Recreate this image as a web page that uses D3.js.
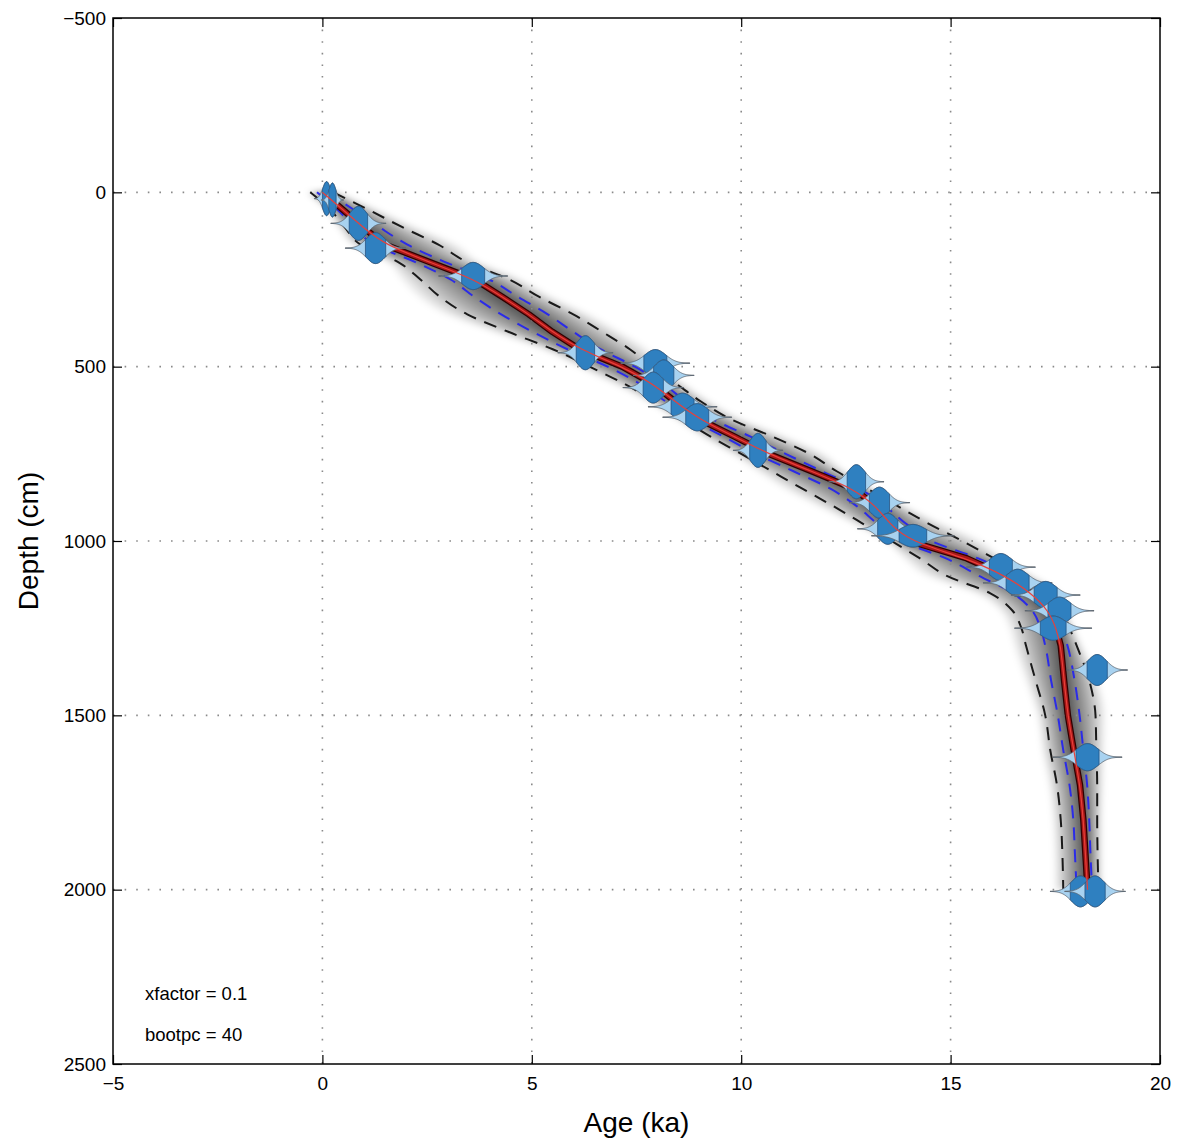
<!DOCTYPE html>
<html><head><meta charset="utf-8">
<script src="https://cdn.jsdelivr.net/npm/d3@7"></script>
<style>
body{margin:0;background:#fff}
svg{display:block}
text{font-family:"Liberation Sans",Arial,Helvetica,sans-serif;fill:#000}
</style>
</head><body>
<svg id="chart" width="1178" height="1140"></svg>
<script>
// ---------- data ----------
const depths       = [0,50,100,150,200,250,300,350,400,450,500,550,600,650,700,750,800,850,900,950,1000,1050,1100,1150,1200,1250,1300,1400,1500,1600,1700,1800,1900,2000];
const ageModel     = [0,0.49,0.97,1.49,2.56,3.64,4.30,4.93,5.49,6.14,7.16,7.90,8.42,8.99,9.83,10.65,11.68,12.68,13.22,13.54,14.01,15.39,16.31,16.93,17.34,17.52,17.63,17.71,17.80,17.94,18.09,18.17,18.22,18.27];
const olderOuter   = [0.26,1.10,1.91,2.77,3.45,4.46,5.18,5.99,6.68,7.34,7.87,8.46,9.04,9.74,10.73,11.63,12.28,13.01,13.74,14.47,15.28,16.04,16.79,17.44,17.67,17.84,18.01,18.31,18.46,18.48,18.50,18.50,18.51,18.53];
const youngerOuter = [-0.29,0.19,0.53,0.91,1.81,2.34,2.81,3.46,4.44,5.50,6.38,7.22,7.94,8.59,9.26,10.00,10.73,11.46,12.20,12.90,13.59,14.27,14.91,15.95,16.48,16.69,16.80,17.03,17.26,17.38,17.54,17.63,17.67,17.69];
const olderInner   = [0.11,0.75,1.36,2.03,2.93,3.98,4.67,5.38,5.99,6.64,7.46,8.14,8.68,9.30,10.21,11.06,11.93,12.82,13.44,13.93,14.54,15.66,16.51,17.14,17.48,17.65,17.79,17.96,18.08,18.17,18.26,18.31,18.34,18.38];
const youngerInner = [-0.13,0.36,0.77,1.23,2.22,3.06,3.63,4.27,5.02,5.85,6.81,7.59,8.20,8.81,9.57,10.36,11.25,12.13,12.76,13.25,13.82,14.89,15.68,16.49,16.95,17.15,17.26,17.40,17.56,17.69,17.84,17.93,17.97,18.01];

const dateDepths = [18,22,89,160,240,460,490,525,560,615,645,740,830,890,965,985,1075,1120,1155,1200,1250,1370,1620,2005,2005];
const dateAges   = [0.10,0.24,0.86,1.27,3.60,6.28,7.95,8.15,7.90,8.60,8.95,10.40,12.75,13.30,13.50,14.10,16.20,16.60,17.27,17.60,17.45,18.50,18.27,18.10,18.45];
const dateSigmas = [0.09,0.08,0.20,0.22,0.25,0.20,0.25,0.22,0.22,0.25,0.25,0.18,0.20,0.22,0.22,0.30,0.25,0.25,0.25,0.25,0.28,0.22,0.25,0.22,0.22];

const xTicks = [-5,0,5,10,15,20];
const yTicks = [-500,0,500,1000,1500,2000,2500];
const xTitle = "Age (ka)";
const yTitle = "Depth (cm)";
const notes  = ["xfactor = 0.1","bootpc = 40"];

// ---------- layout ----------
const L=113, T=18, R=1160, B=1064;
const svg = d3.select("#chart");
const x = d3.scaleLinear().domain([-5,20]).range([L,R]);
const y = d3.scaleLinear().domain([-500,2500]).range([T,B]);

const defs = svg.append("defs");
defs.append("clipPath").attr("id","plotclip")
  .append("rect").attr("x",L).attr("y",T).attr("width",R-L).attr("height",B-T);
defs.append("filter").attr("id","soft").attr("x","-10%").attr("y","-10%").attr("width","120%").attr("height","120%")
  .append("feGaussianBlur").attr("stdDeviation",3);
const plot = svg.append("g").attr("clip-path","url(#plotclip)");

const idx = d3.range(depths.length);

// gray density shading: nested bands around the age model (denser near the centre)
const shade = plot.append("g").attr("filter","url(#soft)");
const N = 22;
for (let k=N; k>=1; k--) {
  const f = 1.35*Math.pow(k/N,1.7);
  const area = d3.area()
    .curve(d3.curveMonotoneY)
    .y(i=>y(depths[i]))
    .x0(i=>x(ageModel[i] + f*(youngerOuter[i]-ageModel[i])))
    .x1(i=>x(ageModel[i] + f*(olderOuter[i]-ageModel[i])));
  shade.append("path").attr("d",area(idx)).attr("fill","#000").attr("fill-opacity",0.06);
}

// grid
const grid = plot.append("g");
xTicks.filter(t=>t>-5&&t<20).forEach(t=>{
  grid.append("line").attr("x1",x(t)).attr("x2",x(t)).attr("y1",T).attr("y2",B)
    .attr("stroke","#8a8a8a").attr("stroke-width",1.6).attr("stroke-dasharray","1.6,10");
});
yTicks.filter(t=>t>-500&&t<2500).forEach(t=>{
  grid.append("line").attr("y1",y(t)).attr("y2",y(t)).attr("x1",L).attr("x2",R)
    .attr("stroke","#8a8a8a").attr("stroke-width",1.6).attr("stroke-dasharray","1.6,10");
});

const lineOf = arr => d3.line().curve(d3.curveMonotoneY).x(i=>x(arr[i])).y(i=>y(depths[i]))(idx);

// outer (black) and inner (blue) dashed bounds
[olderOuter,youngerOuter].forEach(a=>{
  plot.append("path").attr("d",lineOf(a)).attr("fill","none")
    .attr("stroke","#1a1a1a").attr("stroke-width",2).attr("stroke-dasharray","13,9");
});
[olderInner,youngerInner].forEach(a=>{
  plot.append("path").attr("d",lineOf(a)).attr("fill","none")
    .attr("stroke","#2b2be8").attr("stroke-width",2).attr("stroke-dasharray","13,9");
});

// thick age-model line
const modelPath = d3.line().x(i=>x(ageModel[i])).y(i=>y(depths[i]))(idx);
plot.append("path").attr("d",modelPath)
  .attr("fill","none").attr("stroke","#300000").attr("stroke-width",6.5).attr("stroke-linejoin","round");
plot.append("path").attr("d",modelPath)
  .attr("fill","none").attr("stroke","#a81818").attr("stroke-width",4).attr("stroke-linejoin","round");

// dated levels: mirrored probability shapes
const dg = plot.append("g");
dateDepths.forEach((d,i)=>{
  const mu=dateAges[i], s=dateSigmas[i];
  const H = Math.min(17, 3.4/s);
  const cy = y(d);
  const shape = (zmax)=>{
    const zs = d3.range(-zmax, zmax+1e-9, zmax/40);
    const top = zs.map(z=>[x(mu+z*s), cy - H*Math.exp(-z*z/2)]);
    const bot = zs.slice().reverse().map(z=>[x(mu+z*s), cy + H*Math.exp(-z*z/2)]);
    return "M"+top.concat(bot).map(p=>p[0].toFixed(2)+","+p[1].toFixed(2)).join("L")+"Z";
  };
  dg.append("line").attr("x1",x(mu-3.3*s)).attr("x2",x(mu+3.3*s)).attr("y1",cy).attr("y2",cy)
    .attr("stroke","#6a6a6a").attr("stroke-width",1);
  dg.append("path").attr("d",shape(3.3)).attr("fill","#a8d2f0").attr("stroke","#5a6470").attr("stroke-width",0.8);
  dg.append("path").attr("d",shape(1.1)).attr("fill","#2f80c0").attr("stroke","#1f4a78").attr("stroke-width",0.7);
});

// thin smoothed red line on top
plot.append("path").attr("d",d3.line().curve(d3.curveBasis).x(i=>x(ageModel[i])).y(i=>y(depths[i]))(idx))
  .attr("fill","none").attr("stroke","#e8403a").attr("stroke-width",1.2);

// axes
const fmt = d3.format("");
const ax = svg.append("g").attr("transform",`translate(0,${B})`)
  .call(d3.axisBottom(x).tickValues(xTicks).tickFormat(fmt).tickSizeInner(-9).tickSizeOuter(0).tickPadding(13));
const ay = svg.append("g").attr("transform",`translate(${L},0)`)
  .call(d3.axisLeft(y).tickValues(yTicks).tickFormat(fmt).tickSizeInner(-9).tickSizeOuter(0).tickPadding(7));
const axT = svg.append("g").attr("transform",`translate(0,${T})`)
  .call(d3.axisTop(x).tickValues(xTicks).tickFormat("").tickSizeInner(-9).tickSizeOuter(0));
const ayR = svg.append("g").attr("transform",`translate(${R},0)`)
  .call(d3.axisRight(y).tickValues(yTicks).tickFormat("").tickSizeInner(-9).tickSizeOuter(0));
[ax,ay,axT,ayR].forEach(g=>{
  g.select(".domain").remove();
  g.selectAll(".tick line").attr("stroke","#000").attr("stroke-width",1.2);
  g.selectAll("text").attr("font-size",19).attr("fill","#000")
    .style("font-family",'"Liberation Sans",Arial,sans-serif');
});
svg.append("rect").attr("x",L).attr("y",T).attr("width",R-L).attr("height",B-T)
  .attr("fill","none").attr("stroke","#000").attr("stroke-width",1.5);

// titles
svg.append("text").attr("x",(L+R)/2).attr("y",1132).attr("text-anchor","middle")
  .attr("font-size",28).text(xTitle);
svg.append("text").attr("transform",`translate(38,${(T+B)/2}) rotate(-90)`).attr("text-anchor","middle")
  .attr("font-size",28).text(yTitle);

// notes
notes.forEach((t,i)=>{
  svg.append("text").attr("x",145).attr("y",1000+i*41).attr("font-size",18.5).text(t);
});
</script>
</body></html>
